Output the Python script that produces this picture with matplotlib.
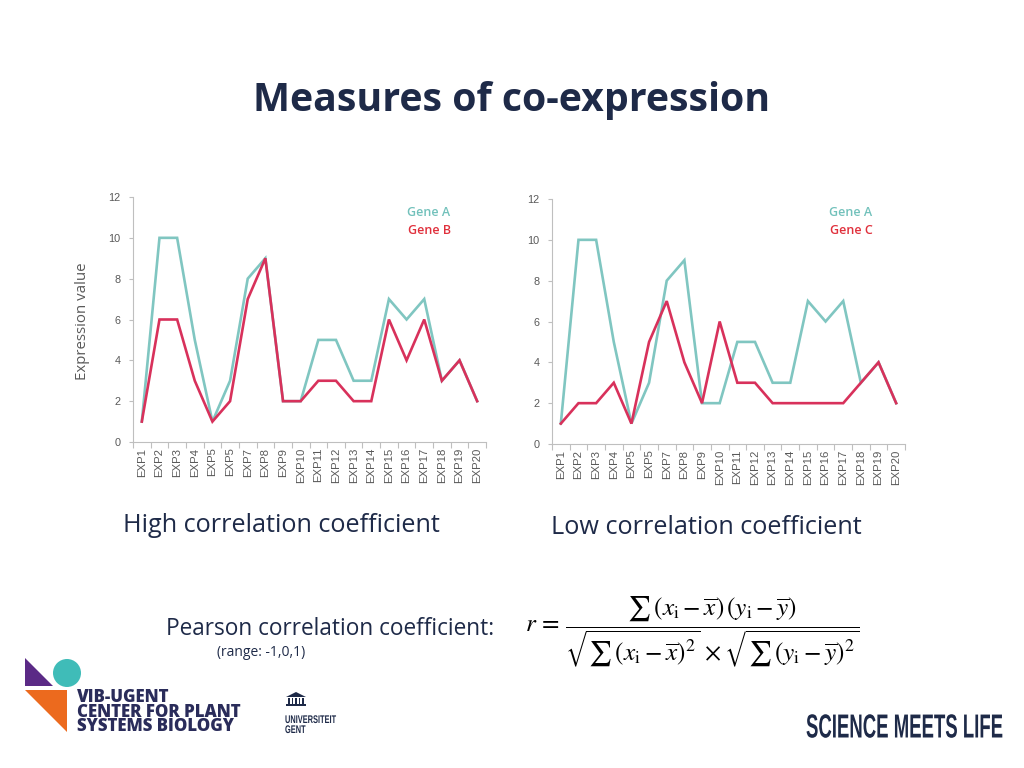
import matplotlib
matplotlib.use("Agg")
import matplotlib.pyplot as plt
from matplotlib import font_manager
from matplotlib.patches import Polygon, Circle, Rectangle
from matplotlib.patheffects import AbstractPathEffect
from matplotlib.transforms import Affine2D
import numpy as np

# ---- data ----
categories = ["EXP1", "EXP2", "EXP3", "EXP4", "EXP5", "EXP5", "EXP7", "EXP8", "EXP9", "EXP10",
              "EXP11", "EXP12", "EXP13", "EXP14", "EXP15", "EXP16", "EXP17", "EXP18", "EXP19", "EXP20"]
gene_a = [1, 10, 10, 5, 1, 3, 8, 9, 2, 2, 5, 5, 3, 3, 7, 6, 7, 3, 4, 2]
gene_b = [1, 6, 6, 3, 1, 2, 7, 9, 2, 2, 3, 3, 2, 2, 6, 4, 6, 3, 4, 2]
gene_c = [1, 2, 2, 3, 1, 5, 7, 4, 2, 6, 3, 3, 2, 2, 2, 2, 2, 3, 4, 2]
y_ticks = [0, 2, 4, 6, 8, 10, 12]

TEAL = "#80c6c1"
RED = "#d8315b"
TEAL_TXT = "#72c1bb"
RED_TXT = "#e0303c"
NAVY = "#1e2a48"
GRAY = "#595959"

available = {f.name for f in font_manager.fontManager.ttflist}
MAIN = "Open Sans" if "Open Sans" in available else "DejaVu Sans"

W, H = 1024, 768
fig = plt.figure(figsize=(W / 100, H / 100), dpi=100)
fig.patch.set_facecolor("white")


def px(x, y):
    return x / W, 1 - y / H


class SqueezeX(AbstractPathEffect):
    """Compress glyph outlines horizontally about a fixed display x."""
    def __init__(self, sx, cx):
        super().__init__()
        self.sx = sx
        self.cx = cx

    def draw_path(self, renderer, gc, tpath, affine, rgbFace=None):
        t = affine + Affine2D().translate(-self.cx, 0).scale(self.sx, 1).translate(self.cx, 0)
        renderer.draw_path(gc, tpath, t, rgbFace)


def add_chart(left, top, right, bottom, s1, s2):
    ax = fig.add_axes([left / W, 1 - bottom / H, (right - left) / W, (bottom - top) / H])
    x = np.arange(len(categories))
    ax.plot(x, s1, color=TEAL, lw=1.9, solid_joinstyle="miter")
    ax.plot(x, s2, color=RED, lw=1.9, solid_joinstyle="miter")
    ax.set_xlim(-0.5, len(categories) - 0.5)
    ax.set_ylim(0, 12)
    ax.set_yticks(y_ticks)
    ax.set_xticks(x)
    ax.set_xticklabels(categories, rotation=90, fontsize=8.2, color=GRAY, family="Liberation Sans")
    ax.set_xticks(np.arange(-0.5, len(categories), 1.0), minor=True)
    ax.tick_params(axis="x", which="major", length=0, pad=4)
    ax.tick_params(axis="x", which="minor", length=4, color="#bfbfbf", width=0.8)
    ax.tick_params(axis="y", length=3, color="#bfbfbf", width=0.8, labelsize=7.8, labelcolor=GRAY, pad=6)
    for lab in ax.get_yticklabels():
        lab.set_family("Liberation Sans")
    for s in ["top", "right"]:
        ax.spines[s].set_visible(False)
    for s in ["left", "bottom"]:
        ax.spines[s].set_color("#bfbfbf")
        ax.spines[s].set_linewidth(0.8)
    ax.set_facecolor("none")
    return ax


add_chart(133, 197, 486, 442, gene_a, gene_b)
add_chart(552, 199, 905, 444, gene_a, gene_c)

# legends
for cx, name2 in [(429, "Gene B"), (851, "Gene C")]:
    fig.text(*px(cx, 213), "Gene A", color=TEAL_TXT, fontsize=9, family=MAIN, fontweight="semibold",
             ha="center", va="center")
    fig.text(*px(cx, 230), name2, color=RED_TXT, fontsize=9, family=MAIN, fontweight="semibold",
             ha="center", va="center")

# title and texts
fig.text(*px(512, 100), "Measures of co-expression", color=NAVY, fontsize=28.3, family=MAIN,
         fontweight="bold", ha="center", va="center")
fig.text(*px(83, 321), "Expression value", color=GRAY, fontsize=10.8, family=MAIN,
         rotation=90, ha="center", va="center")
fig.text(*px(281, 525), "High correlation coefficient", color=NAVY, fontsize=18.2, family=MAIN,
         ha="center", va="center")
fig.text(*px(706, 527), "Low correlation coefficient", color=NAVY, fontsize=18.2, family=MAIN,
         ha="center", va="center")
fig.text(*px(330, 629), "Pearson correlation coefficient:", color=NAVY, fontsize=16.3, family=MAIN,
         ha="center", va="center")
fig.text(*px(261, 652), "(range: -1,0,1)", color=NAVY, fontsize=10, family=MAIN,
         ha="center", va="center")

plt.rcParams["mathtext.fontset"] = "stix"
formula = (r"$r\, = \,\dfrac{\sum\,(x_{\mathrm{i}}-\overline{x})\,(y_{\mathrm{i}}-\overline{y})}"
           r"{\sqrt{\sum\,(x_{\mathrm{i}}-\overline{x})^2}\,\times\sqrt{\sum\,(y_{\mathrm{i}}-\overline{y})^2}}$")
fig.text(*px(692, 632), formula, color="black", fontsize=18.2, ha="center", va="center")

# logo shapes
logo_ax = fig.add_axes([0, 0, 1, 1], zorder=-1)
logo_ax.set_xlim(0, W)
logo_ax.set_ylim(H, 0)
logo_ax.axis("off")
logo_ax.add_patch(Polygon([[25, 658], [25, 686], [53, 686]], closed=True, color="#5b2a86", lw=0))
logo_ax.add_patch(Circle((67, 673), 14, color="#3fbcb8", lw=0))
logo_ax.add_patch(Polygon([[25, 690], [67, 690], [67, 732]], closed=True, color="#ec6a1e", lw=0))

# UGent building icon
logo_ax.add_patch(Polygon([[286, 697], [296, 692], [306, 697]], closed=True, color=NAVY, lw=0))
for i in range(5):
    logo_ax.add_patch(Rectangle((288 + i * 3.6, 698), 1.6, 6, color=NAVY, lw=0))
logo_ax.add_patch(Rectangle((286, 704), 20, 1.6, color=NAVY, lw=0))

fig.text(*px(77, 731), "VIB-UGENT\nCENTER FOR PLANT\nSYSTEMS BIOLOGY", color="#2a2c5a",
         fontsize=12.2, family=MAIN, fontweight="heavy", ha="left", va="baseline",
         multialignment="left", linespacing=0.8)

t_uni = fig.text(*px(285, 733), "UNIVERSITEIT\nGENT", color=NAVY, fontsize=8, family="Liberation Sans",
                 fontweight="bold", ha="left", va="baseline", multialignment="left", linespacing=1.0)
t_sml = fig.text(*px(1003, 729), "SCIENCE MEETS LIFE", color=NAVY, fontsize=24, family="Liberation Sans",
                 fontweight="bold", ha="right", va="center")

# condense these wordmarks horizontally to match the narrow typeface of the original
fig.canvas.draw()
r = fig.canvas.get_renderer()
sx_uni = 51 / t_uni.get_window_extent(r).width
t_uni.set_path_effects([SqueezeX(sx_uni, 285)])
sx_sml = 197 / t_sml.get_window_extent(r).width
t_sml.set_path_effects([SqueezeX(sx_sml, 1003)])

fig.savefig("out.png", dpi=100)
